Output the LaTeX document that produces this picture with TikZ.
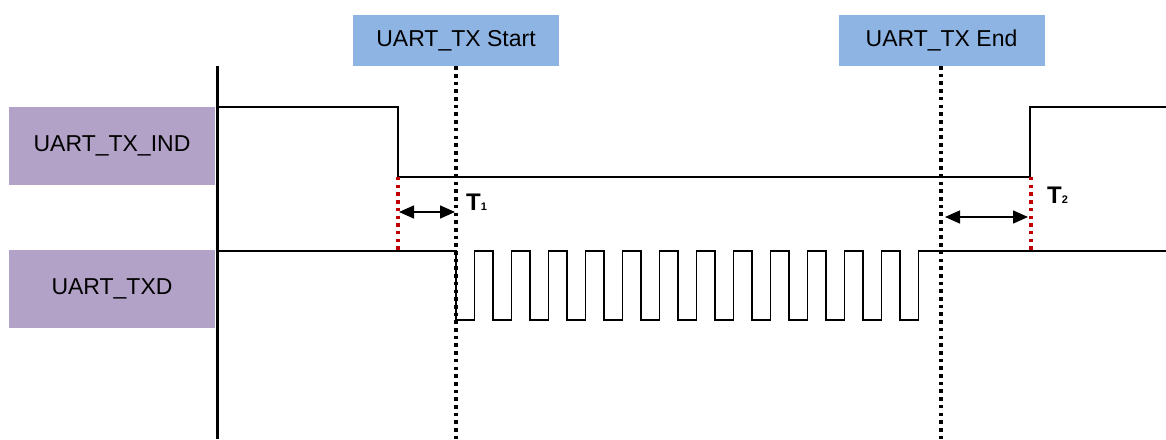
\documentclass[tikz,border=0pt]{standalone}
\usepackage{fontspec}
\setmainfont{Liberation Sans}
\usetikzlibrary{arrows.meta,calc}
\definecolor{evblue}{HTML}{8EB4E3}
\definecolor{sigpurple}{HTML}{B3A2C7}
\definecolor{gapred}{HTML}{C00000}
\tikzset{
  event/.style={fill=evblue, minimum width=206pt, minimum height=51pt, inner sep=0pt, font=\fontsize{23}{27}\selectfont},
  signame/.style={fill=sigpurple, minimum width=206pt, minimum height=78pt, inner sep=0pt, font=\fontsize{23}{27}\selectfont},
  wave/.style={line width=1.8pt, draw=black},
  marker/.style={line width=3.4pt, dash pattern=on 3.6pt off 4.1pt, draw=black},
  gap/.style={line width=3.2pt, dash pattern=on 3.4pt off 4.3pt, draw=gapred},
  span/.style={<->, line width=1.5pt, >={Triangle[length=15pt,width=13pt]}},
  delay/.style={font=\bfseries\fontsize{24}{27}\selectfont, inner sep=0pt}
}
\begin{document}
\begin{tikzpicture}[x=1pt, y=-1pt]
  \useasboundingbox (0,0) rectangle (1166,439);

  % labels
  \node[event] (start) at (456,40.5) {UART\_TX Start};
  \node[event] (end) at (941.5,40.5) {UART\_TX End};
  \node[signame] (ind) at (112,146) {UART\_TX\_IND};
  \node[signame] (txd) at (112,288.5) {UART\_TXD};

  % time axis and event markers
  \draw[line width=3pt] (217,66) -- (217,439);
  \draw[marker] (start.south) -- (456,439);
  \draw[marker] (941,66) -- (941,439);

  % UART_TX_IND
  \draw[wave] (217,107) -- (398,107) -- (398,177) -- (1030,177) -- (1030,107) -- (1166,107);

  % UART_TXD
  \draw[wave] (217,251) -- (456,251) -- (456,320)
    \foreach \k in {0,...,11} { -- ++(18.5,0) -- ++(0,-69) -- ++(18.5,0) -- ++(0,69) }
    -- ++(18.5,0) -- ++(0,-69) -- (1166,251);

  % delays
  \draw[gap] (398,177) -- (398,251);
  \draw[gap] (1031,177) -- (1031,251);
  \draw[span] (399,212) -- (455,212);
  \draw[span] (945,217) -- (1028,217);
  \node[delay, anchor=base west] (t1) at (466,210) {T{\fontsize{11}{12}\selectfont 1}};
  \node[delay, anchor=base west] (t2) at (1047,203) {T{\fontsize{11}{12}\selectfont 2}};
\end{tikzpicture}
\end{document}
